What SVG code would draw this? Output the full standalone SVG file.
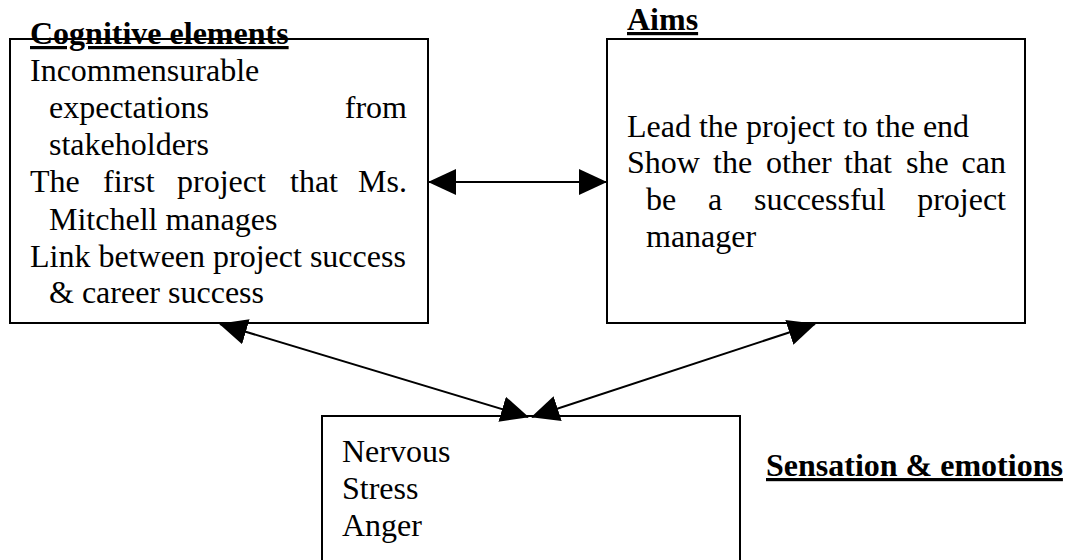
<svg xmlns="http://www.w3.org/2000/svg" width="1065" height="560" viewBox="0 0 1065 560">
  <style>
    .box { fill: #ffffff; stroke: #000000; stroke-width: 2; }
    .txt { font-family: "Liberation Serif", "Times New Roman", serif; font-size: 32px; fill: #000000; }
    .head { font-family: "Liberation Serif", "Times New Roman", serif; font-size: 32px; font-weight: bold; fill: #000000; text-decoration: underline; }
    .link { stroke: #000000; stroke-width: 2; fill: none; }
  </style>
  <defs>
    <marker id="arrow" viewBox="0 0 28 26" refX="27" refY="13" markerWidth="28" markerHeight="26" markerUnits="userSpaceOnUse" orient="auto-start-reverse">
      <path d="M0,0 L28,13 L0,26 Z" fill="#000000"/>
    </marker>
  </defs>
  <rect width="1065" height="560" fill="#ffffff"/>

  <!-- Cognitive elements -->
  <g id="cognitive">
    <rect class="box" x="10" y="39" width="418" height="284"/>
    <text class="head" x="30" y="44">Cognitive elements</text>
    <text class="txt" x="30" y="81">Incommensurable</text>
    <text class="txt" y="118"><tspan x="49">expectations</tspan><tspan x="407" text-anchor="end">from</tspan></text>
    <text class="txt" x="49" y="155">stakeholders</text>
    <text class="txt" y="192"><tspan x="30">The</tspan><tspan x="103">first</tspan><tspan x="177">project</tspan><tspan x="290">that</tspan><tspan x="407" text-anchor="end">Ms.</tspan></text>
    <text class="txt" x="49" y="230">Mitchell manages</text>
    <text class="txt" x="30" y="267">Link between project success</text>
    <text class="txt" x="49" y="303">&amp; career success</text>
  </g>

  <!-- Aims -->
  <g id="aims">
    <rect class="box" x="607" y="39" width="418" height="284"/>
    <text class="head" x="627" y="30">Aims</text>
    <text class="txt" x="627" y="137">Lead the project to the end</text>
    <text class="txt" y="173"><tspan x="627">Show</tspan><tspan x="713">the</tspan><tspan x="766">other</tspan><tspan x="844">that</tspan><tspan x="906">she</tspan><tspan x="1006" text-anchor="end">can</tspan></text>
    <text class="txt" y="210"><tspan x="646">be</tspan><tspan x="708">a</tspan><tspan x="754">successful</tspan><tspan x="1006" text-anchor="end">project</tspan></text>
    <text class="txt" x="646" y="247">manager</text>
  </g>

  <!-- Sensation & emotions -->
  <g id="sensation">
    <rect class="box" x="322" y="416" width="418" height="160"/>
    <text class="txt" x="342" y="462">Nervous</text>
    <text class="txt" x="342" y="499">Stress</text>
    <text class="txt" x="342" y="536">Anger</text>
    <text class="head" x="766" y="476">Sensation &amp; emotions</text>
  </g>

  <!-- Connectors -->
  <g id="connectors">
    <line class="link" x1="429" y1="182" x2="606" y2="182" marker-start="url(#arrow)" marker-end="url(#arrow)"/>
    <line class="link" x1="220" y1="324" x2="528" y2="417" marker-start="url(#arrow)" marker-end="url(#arrow)"/>
    <line class="link" x1="815" y1="324" x2="532" y2="417" marker-start="url(#arrow)" marker-end="url(#arrow)"/>
  </g>
</svg>
